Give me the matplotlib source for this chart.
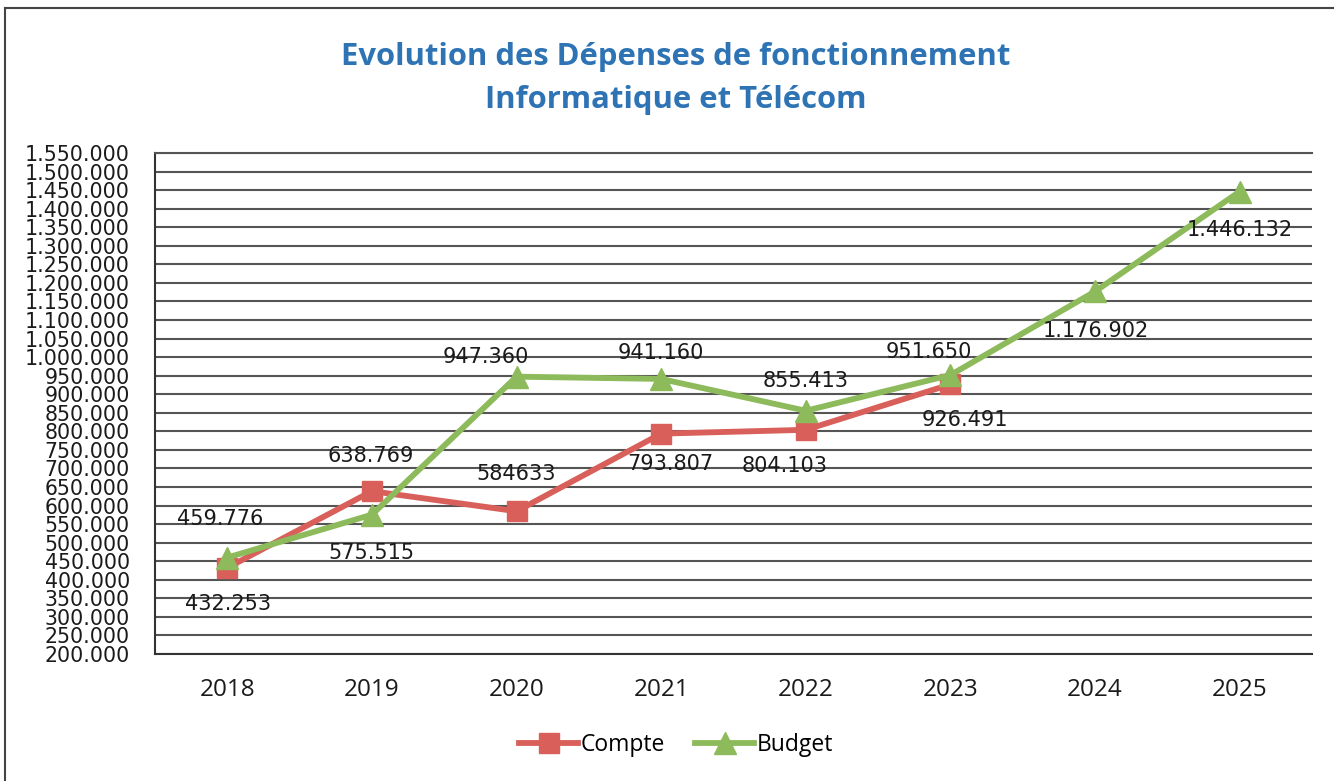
import matplotlib
matplotlib.use("Agg")
import matplotlib.pyplot as plt
from matplotlib.lines import Line2D
from matplotlib.ticker import FuncFormatter, MultipleLocator

# ---- data ----
years = ["2018", "2019", "2020", "2021", "2022", "2023", "2024", "2025"]
compte = [432253, 638769, 584633, 793807, 804103, 926491]
budget = [459776, 575515, 947360, 941160, 855413, 951650, 1176902, 1446132]
compte_labels = ["432.253", "638.769", "584633", "793.807", "804.103", "926.491"]
budget_labels = ["459.776", "575.515", "947.360", "941.160", "855.413", "951.650",
                 "1.176.902", "1.446.132"]

title_lines = ["Evolution des Dépenses de fonctionnement", "Informatique et Télécom"]

# label offsets in pixels (style only)
compte_off = [(1, -36), (-1, 35), (0, 37), (9, -30), (-21, -36), (14, -36)]
budget_off = [(-7, 39), (-1, -38), (-31, 20), (0, 26), (0, 30), (-22, 23), (1, -40), (0, -38)]

RED = "#D9605A"
GREEN = "#8DBA5A"
GRID = "#555555"

fig = plt.figure(figsize=(13.34, 7.81), dpi=100)
fig.patch.set_facecolor("white")
ax = fig.add_axes([155 / 1334, 1 - 654 / 781, (1312 - 155) / 1334, (654 - 153) / 781])

x_c = list(range(len(compte)))
x_b = list(range(len(budget)))

ax.plot(x_c, compte, color=RED, lw=4.2, marker="s", markersize=14,
        markerfacecolor=RED, markeredgecolor=RED, label="Compte", zorder=3)
ax.plot(x_b, budget, color=GREEN, lw=4.2, marker="^", markersize=16,
        markerfacecolor=GREEN, markeredgecolor=GREEN, label="Budget", zorder=4)

for xi, v, lab, off in zip(x_c, compte, compte_labels, compte_off):
    ax.annotate(lab, (xi, v), xytext=off, textcoords="offset pixels",
                ha="center", va="center", fontsize=15, family="DejaVu Sans",
                color="#1a1a1a", zorder=5)
for xi, v, lab, off in zip(x_b, budget, budget_labels, budget_off):
    ax.annotate(lab, (xi, v), xytext=off, textcoords="offset pixels",
                ha="center", va="center", fontsize=15, family="DejaVu Sans",
                color="#1a1a1a", zorder=5)

ax.set_xlim(-0.5, len(years) - 0.5)
ax.set_ylim(200000, 1550000)
ax.set_xticks(x_b)
ax.set_xticklabels(years, fontsize=17.5, family="Open Sans", color="#1a1a1a")
ax.yaxis.set_major_locator(MultipleLocator(50000))
ax.yaxis.set_major_formatter(FuncFormatter(lambda v, p: f"{v:,.0f}".replace(",", ".")))
for t in ax.get_yticklabels():
    t.set_fontsize(14.8)
    t.set_family("DejaVu Sans")
    t.set_color("#1a1a1a")
ax.tick_params(axis="y", length=0, pad=18)
ax.tick_params(axis="x", length=0, pad=17)

ax.grid(axis="y", color=GRID, lw=1.5)
ax.set_axisbelow(True)
ax.spines["right"].set_visible(False)
ax.spines["top"].set_color(GRID)
ax.spines["top"].set_linewidth(1.5)
for s in ["left", "bottom"]:
    ax.spines[s].set_color("#333333")
    ax.spines[s].set_linewidth(1.5)

fig.text(676 / 1334, 1 - 57 / 781, title_lines[0], ha="center", va="center",
         fontsize=22.3, fontweight="bold", family="Open Sans", color="#2E74B5")
fig.text(676 / 1334, 1 - 100 / 781, title_lines[1], ha="center", va="center",
         fontsize=22.3, fontweight="bold", family="Open Sans", color="#2E74B5")

leg = fig.legend(loc="center", bbox_to_anchor=(676 / 1334, 1 - 745 / 781), ncol=2,
                 frameon=False, prop={"family": "Open Sans", "size": 16.5},
                 handlelength=2.6, handletextpad=0.1, columnspacing=1.3,
                 markerscale=1.0)

# outer frame (left & top)
fig.add_artist(Line2D([5 / 1334, 5 / 1334], [0, 1 - 8 / 781], transform=fig.transFigure,
                      color="#444444", lw=1.5))
fig.add_artist(Line2D([5 / 1334, 1], [1 - 8 / 781, 1 - 8 / 781], transform=fig.transFigure,
                      color="#444444", lw=1.5))

fig.savefig("out.png", dpi=100)
